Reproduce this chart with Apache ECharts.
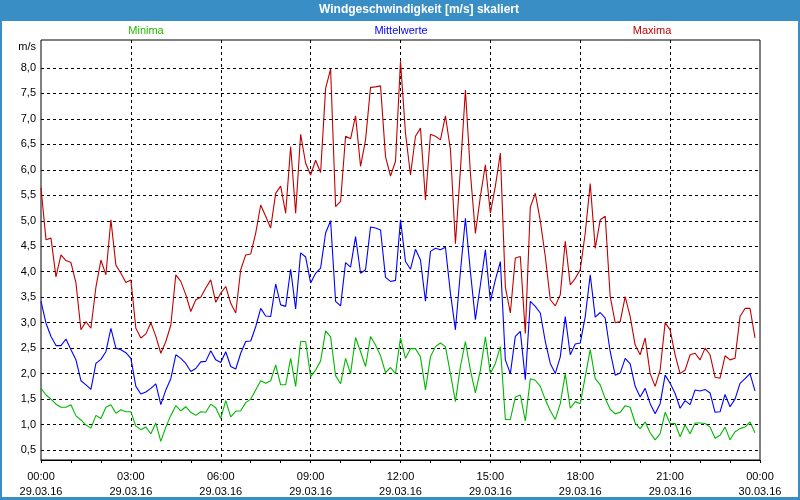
<!DOCTYPE html>
<html>
<head>
<meta charset="utf-8">
<script src="https://cdn.jsdelivr.net/npm/echarts@6/dist/echarts.min.js"></script>
<style>html,body{margin:0;padding:0;background:#fff;}#c{width:800px;height:500px;}</style>
</head>
<body>
<div id="c"></div>
<script>
// 10-minute values, 29.03.16 00:00 .. 23:50
const maxima = [
5.65,4.63,4.66,3.9,4.33,4.22,4.18,3.78,2.86,3.02,
2.89,3.7,4.23,3.94,5.02,4.13,3.97,3.79,3.84,2.89,
2.7,2.78,3.0,2.73,2.4,2.63,2.95,3.94,3.81,3.55,
3.22,3.45,3.5,3.68,3.84,3.4,3.58,3.71,3.38,3.19,
4.04,4.33,4.35,4.76,5.31,5.09,4.86,5.54,5.68,5.15,
6.46,5.15,6.7,6.13,5.9,6.19,5.95,7.6,7.98,5.28,
5.38,6.66,6.61,7.06,6.07,6.59,7.62,7.63,7.65,6.26,
5.88,6.17,8.13,6.72,5.9,6.66,6.82,5.41,6.7,6.66,
6.59,7.06,6.4,4.55,6.0,7.57,5.94,4.75,5.48,6.1,
5.15,5.68,6.33,3.7,3.19,4.27,4.3,2.79,5.27,5.54,
5.0,4.3,3.45,3.33,3.55,4.6,3.74,3.87,4.04,4.76,
5.73,4.46,5.02,5.09,3.51,3.0,3.02,3.51,3.12,2.56,
2.37,2.7,2.0,1.75,2.07,3.0,2.86,2.37,2.0,2.07,
2.37,2.4,2.27,2.5,2.37,1.93,1.91,2.35,2.27,2.3,
3.12,3.28,3.28,2.7];
const mittelwerte = [
3.42,2.99,2.73,2.55,2.55,2.68,2.47,2.27,1.86,1.78,
1.69,2.2,2.28,2.43,2.89,2.5,2.47,2.41,2.3,1.75,
1.6,1.64,1.71,1.8,1.39,1.68,1.9,2.37,2.3,2.2,
2.04,2.1,2.23,2.24,2.45,2.27,2.22,2.43,2.14,2.09,
2.4,2.63,2.64,2.92,3.28,3.13,3.12,3.76,3.35,3.32,
4.05,3.27,4.37,4.29,3.78,3.97,4.07,4.76,5.0,3.42,
3.33,4.18,4.09,4.69,3.97,4.04,4.88,4.86,4.82,3.89,
3.81,3.83,5.02,4.2,4.05,4.44,4.23,3.42,4.4,4.46,
4.43,4.48,3.58,2.86,4.0,5.05,4.0,3.06,3.74,4.43,
3.42,3.84,4.2,2.27,2.0,2.73,2.83,1.88,3.42,3.32,
3.19,2.63,2.2,2.0,2.33,3.12,2.37,2.58,2.6,3.12,
3.94,3.11,3.2,3.09,2.43,1.97,2.01,2.3,2.19,1.75,
1.54,1.71,1.41,1.21,1.41,1.97,1.81,1.61,1.32,1.47,
1.39,1.68,1.66,1.69,1.62,1.24,1.25,1.59,1.35,1.5,
1.81,1.9,2.0,1.66];
const minima = [
1.71,1.58,1.5,1.4,1.34,1.34,1.39,1.17,1.09,0.99,
0.93,1.18,1.12,1.34,1.39,1.22,1.29,1.25,1.25,0.97,
0.9,0.95,0.82,1.03,0.67,0.95,1.18,1.37,1.27,1.35,
1.24,1.18,1.25,1.24,1.4,1.33,1.12,1.47,1.15,1.26,
1.27,1.43,1.5,1.68,1.86,1.81,1.86,2.17,1.78,1.78,
2.3,1.75,2.63,2.63,1.94,2.07,2.25,2.84,2.72,1.96,
1.8,2.3,2.0,2.71,2.43,2.14,2.73,2.56,2.35,2.02,
2.12,2.0,2.7,2.3,2.49,2.49,2.33,1.68,2.33,2.53,
2.6,2.53,2.0,1.45,2.14,2.63,2.07,1.62,2.07,2.72,
2.0,2.2,2.53,1.1,1.1,1.54,1.58,1.07,1.9,1.87,
1.75,1.49,1.27,1.1,1.41,2.0,1.32,1.45,1.41,1.94,
2.47,1.9,1.78,1.51,1.3,1.21,1.24,1.37,1.34,1.03,
0.92,1.05,0.84,0.7,0.82,1.24,1.02,1.02,0.76,0.99,
0.82,1.03,1.03,1.02,0.95,0.73,0.79,0.95,0.7,0.86,
0.92,0.95,1.05,0.84];

// categories: 10-minute time slots (145 incl. 30.03.16 00:00)
const times = [];
for (let i = 0; i <= 144; i++) {
  const m = i * 10;
  const hh = String(Math.floor(m / 60) % 24).padStart(2, '0');
  const mm = String(m % 60).padStart(2, '0');
  times.push(hh + ':' + mm + '|' + (i === 144 ? '30.03.16' : '29.03.16'));
}

const titleText = 'Windgeschwindigkeit [m/s] skaliert';
const seriesNames = ['Minima', 'Mittelwerte', 'Maxima'];
const FONT = 'Liberation Sans';

const chart = echarts.init(document.getElementById('c'), null, {renderer: 'canvas'});
chart.setOption({
  animation: false,
  backgroundColor: '#ffffff',
  textStyle: {fontFamily: FONT},
  graphic: [
    {type: 'rect', shape: {x: 0, y: 0, width: 800, height: 21}, style: {fill: '#3a8ec6'}, z: 10},
    {type: 'rect', shape: {x: 0, y: 0, width: 2, height: 500}, style: {fill: '#3a8ec6'}, z: 10},
    {type: 'rect', shape: {x: 798, y: 0, width: 2, height: 500}, style: {fill: '#3a8ec6'}, z: 10},
    {type: 'rect', shape: {x: 0, y: 497, width: 800, height: 3}, style: {fill: '#3a8ec6'}, z: 10},
    {type: 'text', x: 419, y: 10, z: 11, style: {text: titleText, fill: '#ffffff', font: 'bold 12px "' + FONT + '"', textAlign: 'center', textVerticalAlign: 'middle'}},
    {type: 'text', x: 146, y: 31, z: 11, style: {text: seriesNames[0], fill: '#22bb00', font: '11px "' + FONT + '"', textAlign: 'center', textVerticalAlign: 'middle'}},
    {type: 'text', x: 401, y: 31, z: 11, style: {text: seriesNames[1], fill: '#0000ff', font: '11px "' + FONT + '"', textAlign: 'center', textVerticalAlign: 'middle'}},
    {type: 'text', x: 652, y: 31, z: 11, style: {text: seriesNames[2], fill: '#c00000', font: '11px "' + FONT + '"', textAlign: 'center', textVerticalAlign: 'middle'}},
    {type: 'text', x: 36, y: 47, z: 11, style: {text: 'm/s', fill: '#000000', font: '11px "' + FONT + '"', textAlign: 'right', textVerticalAlign: 'middle'}}
  ],
  grid: [
    {left: 41, right: 40, top: 40, height: 420, show: true, borderColor: '#000', borderWidth: 1, backgroundColor: 'transparent', z: 3},
    {left: 41, right: 40, top: 68, height: 382, show: false}
  ],
  xAxis: [
    {
      type: 'category', gridIndex: 0, data: times, boundaryGap: false,
      axisLine: {show: true, lineStyle: {color: '#000', width: 1}},
      axisTick: {show: true, length: 3, lineStyle: {color: '#000'}, interval: (i) => i % 6 === 0},
      axisLabel: {
        interval: (i) => i % 18 === 0, color: '#000', fontSize: 11, fontFamily: FONT,
        margin: 9, lineHeight: 15,
        formatter: (v) => v.split('|').join('\n')
      },
      splitLine: {show: true, interval: (i) => i % 18 === 0 && i > 0 && i < 144, lineStyle: {color: '#000', type: [3, 3], width: 1}}
    },
    {type: 'category', gridIndex: 1, data: times, show: false, boundaryGap: false}
  ],
  yAxis: [
    {type: 'value', gridIndex: 0, min: 0.304, max: 8.55, show: false},
    {
      type: 'value', gridIndex: 1, min: 0.5, max: 8, interval: 0.5,
      axisLine: {show: false}, axisTick: {show: false},
      axisLabel: {color: '#000', fontSize: 11, fontFamily: FONT, margin: 5,
        formatter: (v) => v.toFixed(1).replace('.', ',')},
      splitLine: {show: true, lineStyle: {color: '#000', type: [3, 3], width: 1}}
    }
  ],
  series: [
    {name: seriesNames[0], type: 'line', xAxisIndex: 0, yAxisIndex: 0, data: minima, showSymbol: false, symbol: 'none', lineStyle: {color: '#00b800', width: 1.1}, z: 5},
    {name: seriesNames[1], type: 'line', xAxisIndex: 0, yAxisIndex: 0, data: mittelwerte, showSymbol: false, symbol: 'none', lineStyle: {color: '#0000ff', width: 1.1}, z: 5},
    {name: seriesNames[2], type: 'line', xAxisIndex: 0, yAxisIndex: 0, data: maxima, showSymbol: false, symbol: 'none', lineStyle: {color: '#c00000', width: 1.1}, z: 5}
  ]
});
</script>
</body>
</html>
